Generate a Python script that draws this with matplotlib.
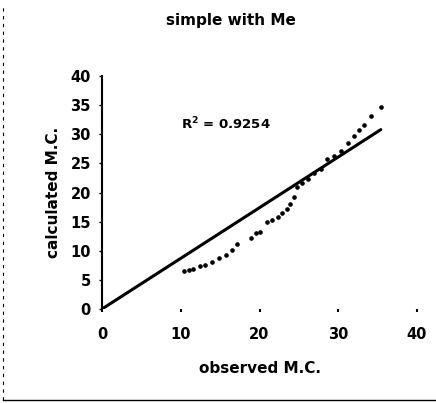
import numpy as np
import matplotlib
matplotlib.use("Agg")
import matplotlib.pyplot as plt
from matplotlib.lines import Line2D

# observed vs calculated moisture content
observed = [10.4, 11.0, 11.6, 12.5, 13.1, 14.0, 14.8, 15.7, 16.5, 17.2,
            18.9, 19.5, 20.1, 21.0, 21.6, 22.3, 22.9, 23.5, 23.9, 24.4,
            24.8, 25.4, 26.1, 26.9, 27.8, 28.6, 29.5, 30.3, 31.2, 32.0,
            32.6, 33.3, 34.1, 35.4]
calculated = [6.5, 6.7, 6.8, 7.3, 7.6, 8.0, 8.8, 9.2, 10.2, 11.2,
              12.2, 13.0, 13.3, 15.0, 15.3, 15.8, 16.4, 17.2, 18.1, 19.2,
              20.9, 21.7, 22.3, 23.4, 24.0, 25.7, 26.3, 27.1, 28.5, 29.7,
              30.8, 31.6, 33.1, 34.7]
# linear trendline as drawn on the chart (starts at the origin)
trend_x = [0, 35.4]
trend_y = [0, 30.8]
x_ticks = [0, 10, 20, 30, 40]
y_ticks = [0, 5, 10, 15, 20, 25, 30, 35, 40]
r2_label = "R$^2$ = 0.9254"

plt.rcParams['font.family'] = ['DejaVu Sans']
plt.rcParams['font.weight'] = 'bold'
plt.rcParams['mathtext.default'] = 'bf'

fig = plt.figure(figsize=(4.36, 4.03), dpi=100)
ax = fig.add_axes([0.234, 0.2333, 0.7225, 0.578])

ax.plot(observed, calculated, linestyle='none', marker='o', markersize=2.3,
        color='black')
ax.plot(trend_x, trend_y, color='black', linewidth=2.2, solid_capstyle='round')

ax.text(15.7, 31.7, r2_label, ha='center', va='center', fontsize=9.5,
        fontweight='bold')

ax.set_xlim(0, 40)
ax.set_ylim(0, 40)
ax.set_xticks(x_ticks)
ax.set_yticks(y_ticks)
ax.tick_params(axis='x', length=2, width=1.5, pad=11, labelsize=10.5)
ax.tick_params(axis='y', length=2, width=1, pad=6, labelsize=10.5)
for lab in ax.get_xticklabels() + ax.get_yticklabels():
    lab.set_fontweight('bold')

for s in ['top', 'right', 'bottom']:
    ax.spines[s].set_visible(False)
ax.spines['left'].set_linewidth(1.5)

ax.set_xlabel('observed M.C.', fontsize=11, fontweight='bold', labelpad=14)
ax.set_ylabel('calculated M.C.', fontsize=11, fontweight='bold', labelpad=7)
fig.suptitle('simple with Me', x=0.53, y=0.967, fontsize=11, fontweight='bold')

# chart area border (left and bottom visible on the scan)
fig.add_artist(Line2D([0.008, 0.008], [0.008, 0.99], transform=fig.transFigure,
                      color='black', linewidth=0.8, linestyle=(0, (3, 4))))
fig.add_artist(Line2D([0.008, 1.0], [0.008, 0.008], transform=fig.transFigure,
                      color='black', linewidth=1.0))

fig.savefig('out.png', dpi=100)
